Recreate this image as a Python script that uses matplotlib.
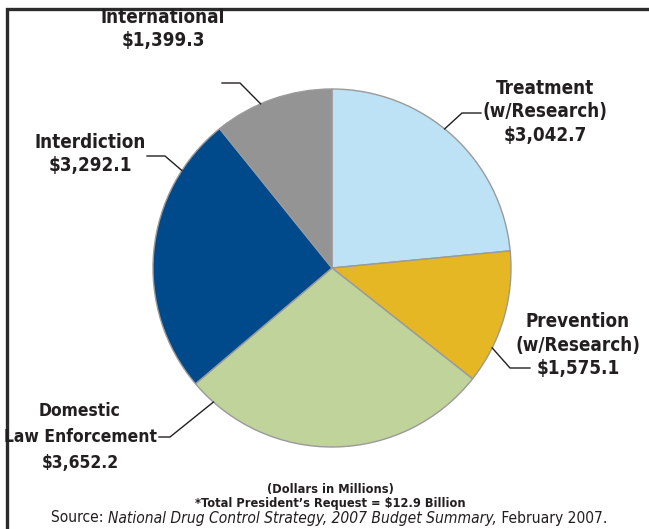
import numpy as np
import matplotlib
matplotlib.use("Agg")
import matplotlib.pyplot as plt
from matplotlib.patches import Rectangle

# Budget components, FY2008 request (dollars in millions)
categories = ["Treatment\n(w/Research)", "Prevention\n(w/Research)",
              "Domestic\nLaw Enforcement", "Interdiction", "International"]
amounts = [3042.7, 1575.1, 3652.2, 3292.1, 1399.3]
colors = ["#BDE2F6", "#E6B724", "#BFD39B", "#004A8C", "#949494"]

note_lines = ["(Dollars in Millions)",
              "*Total President\u2019s Request = $12.9 Billion"]
source_parts = [("Source: ", "normal"),
                ("National Drug Control Strategy, 2007 Budget Summary,", "italic"),
                (" February 2007.", "normal")]

W, H = 649, 529
FONT = ["DejaVu Sans"]
TEXT_COLOR = "#231f20"

# label layout in pixel coords (y from top): text centre, size, line spacing,
# leader start/elbow, angle where the leader meets the rim
label_layout = [
    dict(xy=(545, 112), fs=13.5, ls=1.28, lead=((481, 113), (462, 113)), ang=51.0),
    dict(xy=(578, 345), fs=13.5, ls=1.28, lead=((530, 368), (510, 368)), ang=-26.5),
    dict(xy=(80, 437), fs=12.5, ls=1.55, lead=((159, 437), (170, 437)), ang=228.5),
    dict(xy=(90, 154), fs=13.5, ls=1.22, lead=((147, 156), (165, 156)), ang=147.0),
    dict(xy=(163, 29), fs=13.5, ls=1.25, lead=((222, 83), (240, 83)), ang=113.5),
]


def py(y):
    return H - y


fig = plt.figure(figsize=(W / 100, H / 100), dpi=100)
ax = fig.add_axes([0, 0, 1, 1])

center = (332, py(268))
radius = 179
ax.pie(amounts, colors=colors, startangle=90, counterclock=False,
       center=center, radius=radius,
       wedgeprops=dict(edgecolor="#9a9a9a", linewidth=1.0))
ax.set_xlim(0, W)
ax.set_ylim(0, H)
ax.set_aspect("auto")
ax.axis("off")

# outer frame (right and bottom edges run off the picture)
ax.add_patch(Rectangle((6.5, py(9) - 600), 800, 600, fill=False,
                       edgecolor="#2b2b2b", linewidth=2.4, clip_on=False))

for name, val, lay in zip(categories, amounts, label_layout):
    tx, ty = lay["xy"]
    ax.text(tx, py(ty), f"{name}\n${val:,.1f}", ha="center", va="center",
            fontsize=lay["fs"], fontweight="bold", family=FONT,
            stretch="condensed", color=TEXT_COLOR, linespacing=lay["ls"])
    (x0, y0), (x1, y1) = lay["lead"]
    a = np.deg2rad(lay["ang"])
    ex = center[0] + radius * np.cos(a)
    ey = center[1] + radius * np.sin(a)
    ax.plot([x0, x1, ex], [py(y0), py(y1), ey], color="#231f20", lw=1.0)

ax.text(330, py(489), note_lines[0], ha="center", va="center", fontsize=9.2,
        fontweight="bold", family=FONT, stretch="condensed", color=TEXT_COLOR)
ax.text(330, py(503), note_lines[1], ha="center", va="center", fontsize=9.2,
        fontweight="bold", family=FONT, stretch="condensed", color=TEXT_COLOR)

# source line with italic title: lay out pieces side by side
renderer = fig.canvas.get_renderer()
pieces = []
for txt, style in source_parts:
    t = ax.text(0, py(518), txt, ha="left", va="center", fontsize=11.2,
                style=style, family=FONT, stretch="condensed", color=TEXT_COLOR)
    pieces.append(t)
widths = [p.get_window_extent(renderer).width for p in pieces]
x = 329 - sum(widths) / 2
for p, w in zip(pieces, widths):
    p.set_x(x)
    x += w

fig.savefig("out.png", dpi=100)
